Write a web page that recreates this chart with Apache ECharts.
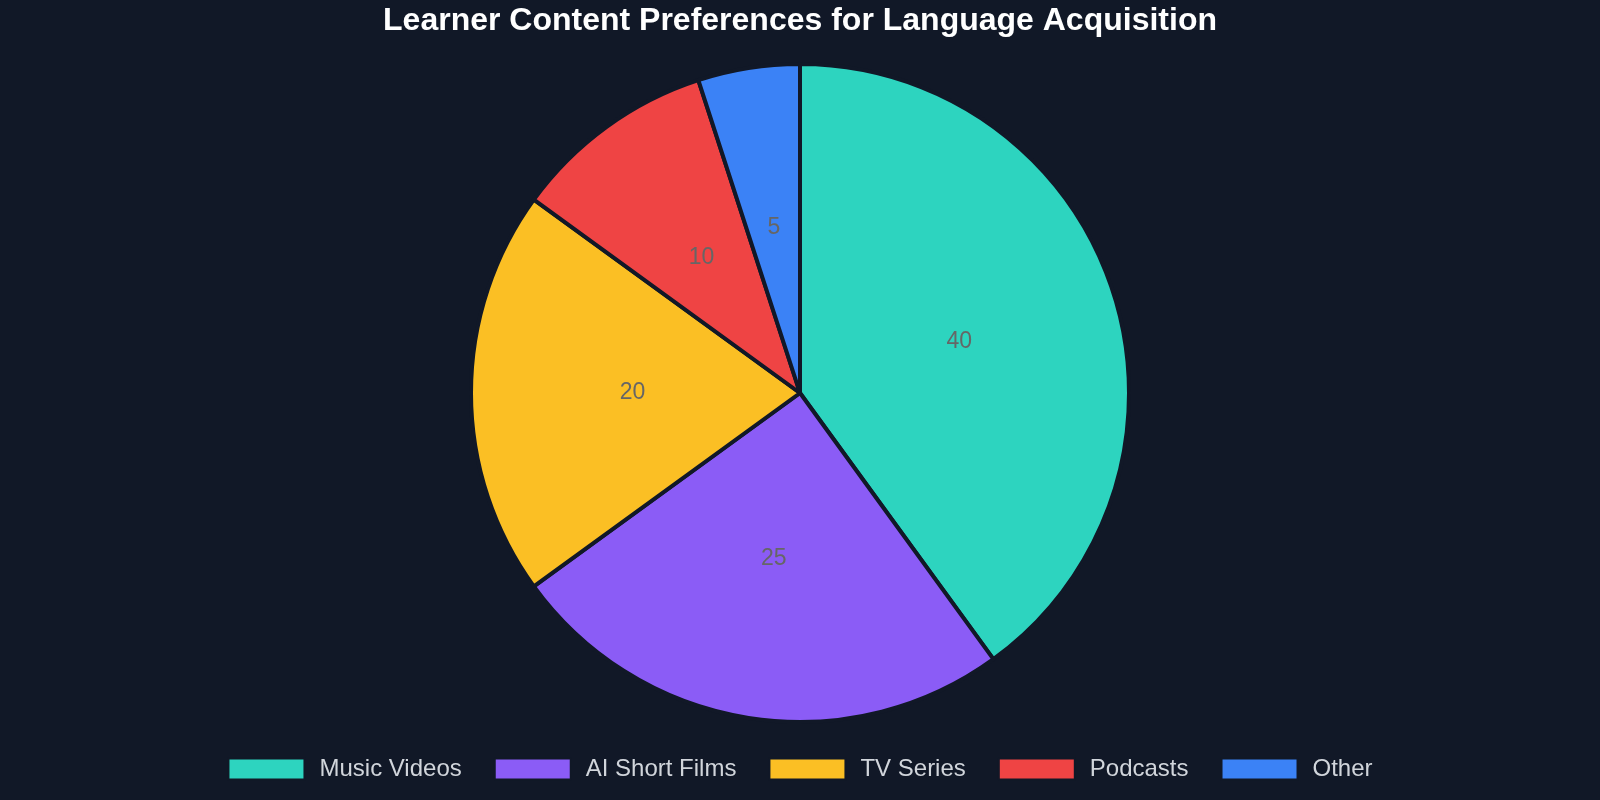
<!DOCTYPE html>
<html>
<head>
<meta charset="utf-8">
<script src="https://cdn.jsdelivr.net/npm/echarts@6/dist/echarts.min.js"></script>
<style>
  html, body { margin: 0; padding: 0; background: #111827; }
  #main { width: 1600px; height: 800px; }
</style>
</head>
<body>
<div id="main"></div>
<script>
var categories = ['Music Videos', 'AI Short Films', 'TV Series', 'Podcasts', 'Other'];
var values = [40, 25, 20, 10, 5];
var colors = ['#2dd4bf', '#8b5cf6', '#fbbf24', '#ef4444', '#3b82f6'];

var pieData = [];
for (var i = 0; i < categories.length; i++) {
    pieData.push({ name: categories[i], value: values[i], itemStyle: { color: colors[i] } });
}

var myChart = echarts.init(document.getElementById('main'));
var option = {
    backgroundColor: '#111827',
    textStyle: { fontFamily: 'Liberation Sans, Arial, sans-serif' },
    title: {
        text: 'Learner Content Preferences for Language Acquisition',
        left: 'center',
        top: 0,
        textStyle: { color: '#ffffff', fontSize: 32, fontWeight: 'bold' }
    },
    legend: {
        data: categories,
        bottom: 14,
        left: 'center',
        itemWidth: 76,
        itemHeight: 21,
        itemGap: 32,
        icon: 'rect',
        textStyle: { color: '#d1d5db', fontSize: 24, padding: [0, 0, 0, 10] }
    },
    series: [{
        type: 'pie',
        center: ['50%', 393],
        radius: 329,
        startAngle: 90,
        clockwise: true,
        animation: false,
        data: pieData,
        itemStyle: { borderColor: '#111827', borderWidth: 4 },
        label: {
            show: true,
            position: 'inside',
            formatter: '{c}',
            color: '#666666',
            fontSize: 23
        },
        labelLine: { show: false },
        emphasis: { scale: false }
    }]
};
myChart.setOption(option);
</script>
</body>
</html>
